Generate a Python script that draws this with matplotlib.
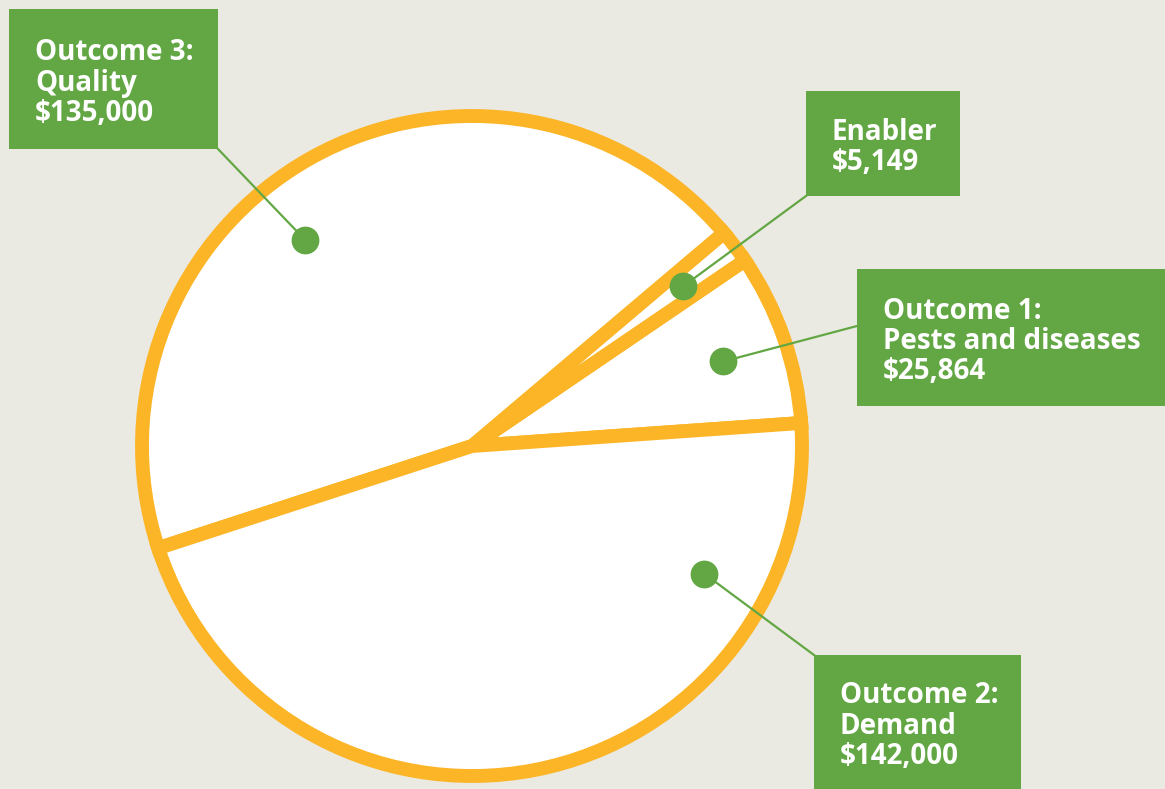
import numpy as np
import matplotlib.pyplot as plt
from matplotlib.patches import Rectangle

# Datos del gráfico
categorias = ["Outcome 1:\nPests and diseases", "Enabler", "Outcome 3:\nQuality", "Outcome 2:\nDemand"]
valores = [25864, 5149, 135000, 142000]
etiquetas = ["$25,864", "$5,149", "$135,000", "$142,000"]

# Estilo
FONDO = "#EBEAE2"
NARANJA = "#FBB527"
VERDE = "#62A744"
W, H = 1165, 789

# Layout (pixeles, y hacia abajo)
CENTRO = (472, 446)
RADIO = 330
ang_punto = [18.6, 37.1, 129, -28.8]      # angulo del punto dentro de cada sector
r_punto = 265
cajas = [(857, 269, 308, 137), (806, 91, 154, 105), (9, 9, 209, 140), (814, 655, 207, 134)]
ancla = [(857, 326), (806, 196), (218, 149), (814, 655)]

fig = plt.figure(figsize=(W / 100, H / 100), dpi=100)
fig.patch.set_facecolor(FONDO)
ax = fig.add_axes([0, 0, 1, 1])
ax.set_facecolor(FONDO)

ax.pie(valores, startangle=4, counterclock=True, center=(CENTRO[0], H - CENTRO[1]), radius=RADIO,
       colors=["white"] * len(valores),
       wedgeprops=dict(edgecolor=NARANJA, linewidth=10, joinstyle="miter"))
ax.set_xlim(0, W)
ax.set_ylim(0, H)
ax.set_aspect("equal")
ax.axis("off")

for cat, lab, ang, (bx, by, bw, bh), (lx, ly) in zip(categorias, etiquetas, ang_punto, cajas, ancla):
    px = CENTRO[0] + r_punto * np.cos(np.radians(ang))
    py = H - CENTRO[1] + r_punto * np.sin(np.radians(ang))
    ax.plot([lx, px], [H - ly, py], color=VERDE, linewidth=1.6, zorder=3)
    ax.plot(px, py, "o", color=VERDE, markersize=19, zorder=4)
    ax.add_patch(Rectangle((bx, H - by - bh), bw, bh, facecolor=VERDE, edgecolor="none", zorder=5))
    ax.text(bx + 26, H - by - bh / 2 - 4, cat + "\n" + lab, color="white", fontsize=20, fontweight="bold",
            family="Open Sans", va="center", ha="left", linespacing=1.06, zorder=6)

fig.savefig("out.png", dpi=100, facecolor=FONDO)
